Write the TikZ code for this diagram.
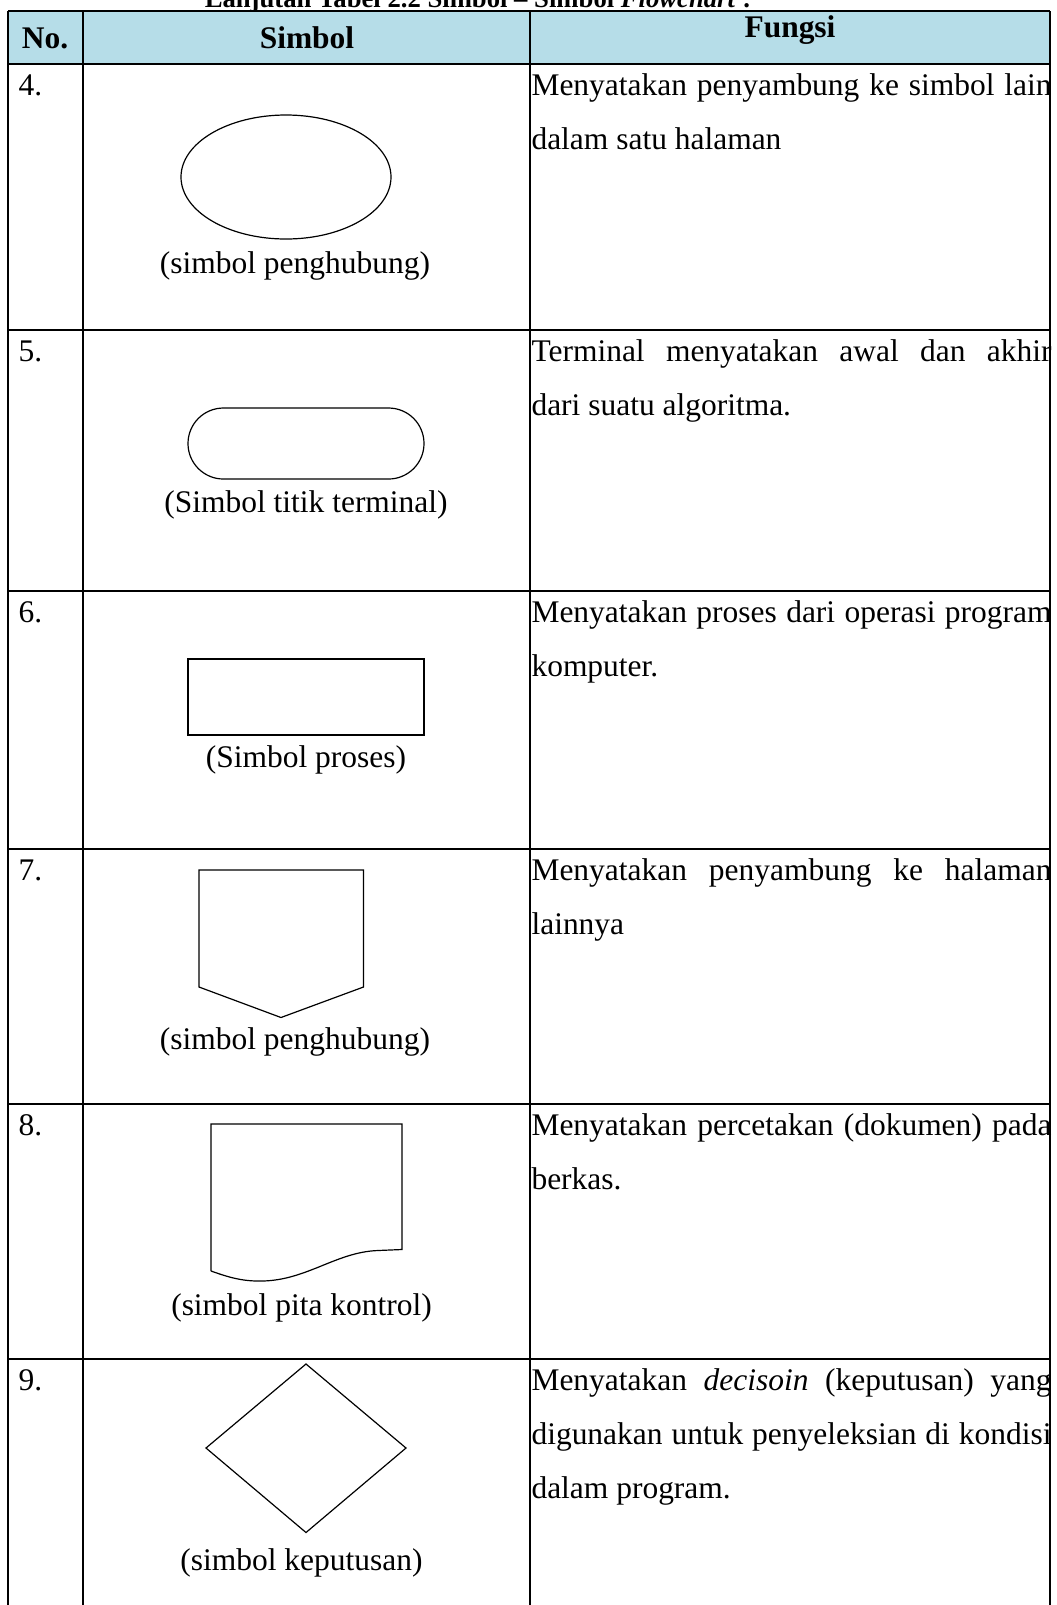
\documentclass[tikz,border=0pt]{standalone}
\usepackage{fontspec}
\setmainfont{Liberation Serif}
\usepackage{xcolor}
\usepackage{tikz}
\definecolor{headblue}{HTML}{B6DDE8}
\newcommand{\cellfont}{\fontsize{11.8}{20.4}\selectfont}
\tikzset{
  tablerule/.style={line width=0.75pt},
  symline/.style={line width=0.45pt},
  nocell/.style={anchor=base west, inner sep=0pt, font=\cellfont},
  fungsicell/.style={anchor=base west, inner sep=0pt, text width=195pt, align=justify, font=\cellfont},
  symlabel/.style={anchor=base, inner sep=0pt, font=\cellfont},
  headcell/.style={anchor=base, inner sep=0pt, font=\cellfont\bfseries},
}

\begin{document}
\begin{tikzpicture}[x=0.375pt, y=-0.375pt]
    \path[use as bounding box, clip] (0,0) rectangle (1057,1605);

    % caption, cut off at the top of the page
    \node[anchor=base, inner sep=0pt, font=\fontsize{10}{12}\selectfont\bfseries] (caption) at (478,7)
        {Lanjutan Tabel 2.2 Simbol -- Simbol \textit{Flowchart} :};

    % header row
    \fill[headblue] (8,11) rectangle (1050,64);
    \node[headcell] (hno) at (45,48) {No.};
    \node[headcell] (hsimbol) at (307,48) {Simbol};
    \node[headcell] (hfungsi) at (790,37) {Fungsi};

    % table rules
    \foreach \y in {11,64,330,591,849,1104,1359}
        \draw[tablerule] (8,\y) -- (1050,\y);
    \foreach \x in {8,83,530,1050}
        \draw[tablerule] (\x,11) -- (\x,1605);

    % row numbers
    \foreach \n/\y in {4/95,5/361,6/622,7/880,8/1135,9/1390}
        \node[nocell] (no\n) at (18,\y) {\n.};

    % symbols
    \draw[symline] (286,177) ellipse [x radius=105, y radius=62];
    \draw[symline, rounded corners=13.3pt] (188,408) rectangle (424,479);
    \draw[symline] (188,659) rectangle (424,735);
    \draw[symline] (199,870) -- (363.5,870) -- (363.5,987) -- (281,1017.5) -- (199,987) -- cycle;
    \draw[symline] (211,1271) -- (211,1124) -- (402,1124) -- (402,1249.5) -- (378,1250.5)
        .. controls (335,1252) and (305,1282) .. (258,1281)
        .. controls (240,1281) and (225,1276) .. (211,1271);
    \draw[symline] (306,1364) -- (406,1448) -- (306,1532.5) -- (206,1448) -- cycle;

    % symbol names
    \node[symlabel] (lab4) at (295,273) {(simbol penghubung)};
    \node[symlabel] (lab5) at (306,512) {(Simbol titik terminal)};
    \node[symlabel] (lab6) at (306,767) {(Simbol proses)};
    \node[symlabel] (lab7) at (295,1049) {(simbol penghubung)};
    \node[symlabel] (lab8) at (301.5,1315) {(simbol pita kontrol)};
    \node[symlabel] (lab9) at (301.5,1570) {(simbol keputusan)};

    % fungsi column
    \node[fungsicell] (fn4) at (531,95) {Menyatakan penyambung ke simbol lain dalam satu halaman};
    \node[fungsicell] (fn5) at (531,361) {Terminal menyatakan awal dan akhir\linebreak dari suatu algoritma.};
    \node[fungsicell] (fn6) at (531,622) {Menyatakan proses dari operasi program komputer.};
    \node[fungsicell] (fn7) at (531,880) {Menyatakan penyambung ke halaman lainnya};
    \node[fungsicell] (fn8) at (531,1135) {Menyatakan percetakan (dokumen) pada berkas.};
    \node[fungsicell] (fn9) at (531,1390) {Menyatakan \textit{decisoin} (keputusan) yang digunakan untuk penyeleksian di kondisi dalam program.};
\end{tikzpicture}
\end{document}
